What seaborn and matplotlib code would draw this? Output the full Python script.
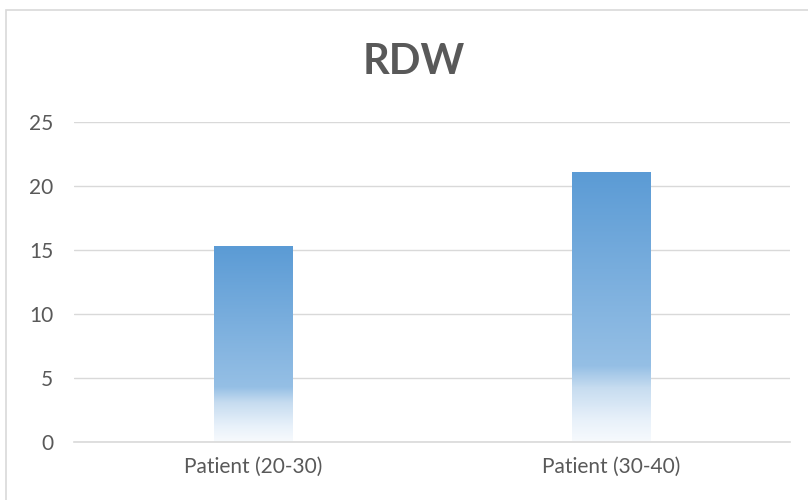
import numpy as np
import pandas as pd
import matplotlib
matplotlib.use("Agg")
import matplotlib.pyplot as plt
from matplotlib.colors import LinearSegmentedColormap
from matplotlib.patches import Rectangle
import seaborn as sns

categories = ["Patient (20-30)", "Patient (30-40)"]
rdw_values = [15.3, 21.1]
y_ticks = [0, 5, 10, 15, 20, 25]

df = pd.DataFrame({"group": categories, "rdw": rdw_values})

sns.set_theme(style="white")
plt.rcParams["font.family"] = ["Lato", "DejaVu Sans"]

text_color = "#595959"
grid_color = "#D9D9D9"

fig = plt.figure(figsize=(8.08, 5.0), dpi=100)
ax = fig.add_axes([0.0916, 0.116, 0.978 - 0.0916, 0.756 - 0.116])

sns.barplot(data=df, x="group", y="rdw", ax=ax, width=0.218,
            color="#5B9BD5", saturation=1, errorbar=None)

ax.set_ylim(0, 25)
ax.set_yticks(y_ticks)
ax.set_xlim(-0.5, 1.5)
ax.yaxis.grid(True, color=grid_color, linewidth=1)
ax.set_axisbelow(True)
for side in ["top", "right", "left"]:
    ax.spines[side].set_visible(False)
ax.spines["bottom"].set_color(grid_color)
ax.spines["bottom"].set_linewidth(1.2)
ax.tick_params(axis="both", length=0, colors=text_color, labelsize=15)
ax.tick_params(axis="x", pad=11)
ax.tick_params(axis="y", pad=15)
ax.set_xlabel("")
ax.set_ylabel("")

# vertical blue-to-white gradient fill inside each bar
cmap = LinearSegmentedColormap.from_list(
    "bar_fade",
    [(0.0, "#5B9BD5"), (0.72, "#95BFE5"), (0.80, "#C6DCF0"),
     (0.92, "#E8F1FA"), (1.0, "#F7FAFD")])
grad = np.linspace(0, 1, 256).reshape(-1, 1)
for patch in list(ax.patches):
    x0 = patch.get_x()
    w = patch.get_width()
    h = patch.get_height()
    im = ax.imshow(grad, cmap=cmap, aspect="auto",
                   extent=(x0, x0 + w, 0, h), origin="upper", zorder=2)
    im.set_clip_path(patch)
    patch.set_facecolor("none")
    patch.set_edgecolor("none")
ax.set_xlim(-0.5, 1.5)
ax.set_ylim(0, 25)

fig.text(0.512, 0.876, "RDW", ha="center", va="center", fontsize=30,
         fontweight="bold", color=text_color)

fig.patches.append(Rectangle((6 / 808, -0.1), 1.2, 1 - 9.5 / 500 + 0.1,
                             transform=fig.transFigure, fill=False,
                             edgecolor=grid_color, linewidth=1.2))

fig.savefig("out.png", dpi=100)
